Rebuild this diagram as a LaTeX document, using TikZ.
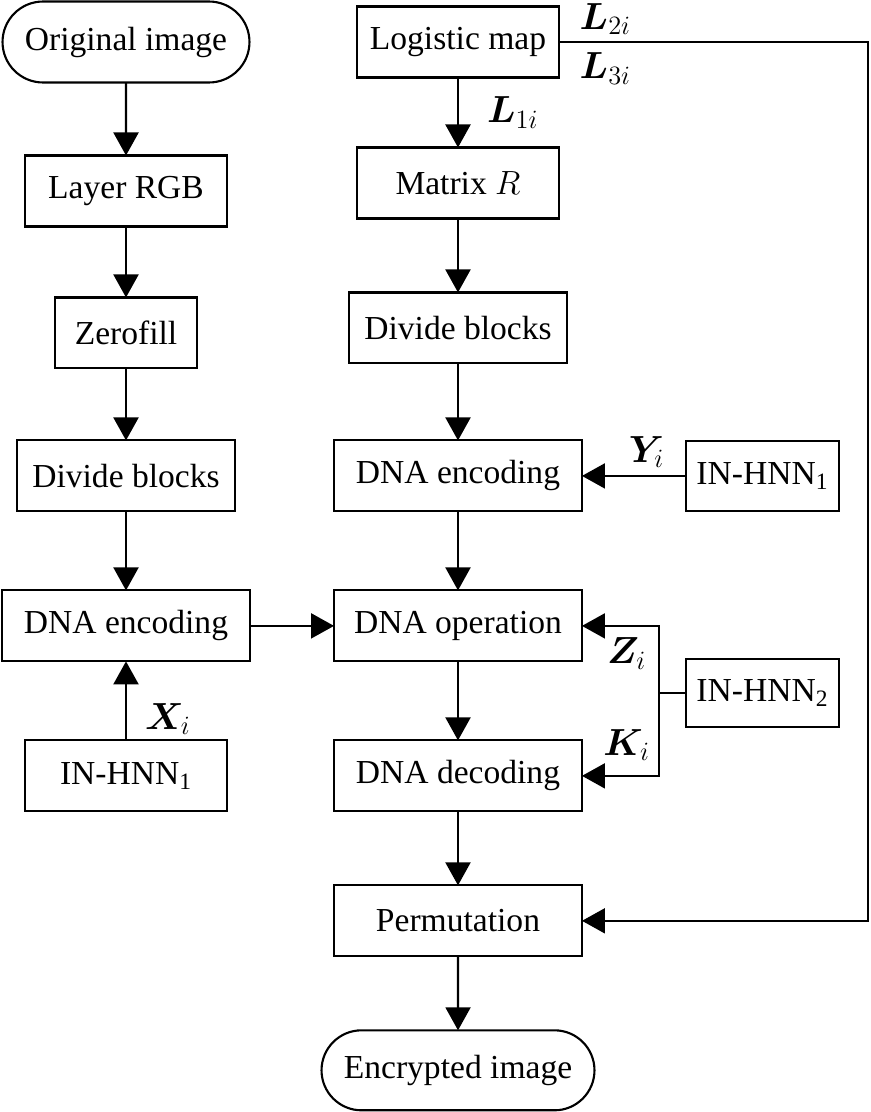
\RequirePackage{fix-cm}
\documentclass[tikz,border=0pt]{standalone}
\usepackage{amssymb,amsmath}
\usepackage{bm}
\usepackage[no-math]{fontspec}
\setmainfont{Liberation Serif}
\usetikzlibrary{arrows.meta}
\usetikzlibrary{positioning}
\usetikzlibrary{shapes.misc}

\begin{document}
\begin{tikzpicture}[
        x = 0.02cm, y = -0.02cm, % pixel grid
        > = {Triangle[length=4.6mm, width=5mm]}, % arrow head style
        node distance = 1.42cm, % gap between boxes
        line width = 1.2pt, % line style
        font = \fontsize{19.1pt}{22pt}\selectfont
    ]

    \tikzstyle{block}=[
        draw = black,
        fill = white,
        inner sep = 0pt,
        outer sep = 0pt,
        minimum height = 1.42cm
    ]
    \tikzstyle{term}=[
        block,
        rounded rectangle,
        minimum height = 1.62cm
    ]
    \tikzstyle{lbl}=[inner sep = 0pt, font = \fontsize{21.5pt}{24pt}\selectfont]

    \useasboundingbox (0,0) rectangle (871,1112);

    % left column
    \node[term, minimum width=4.94cm] (orig) at (126,42) {Original image};
    \node[block, minimum width=4.04cm] (layer) [below=1.46cm of orig] {Layer RGB};
    \node[block, minimum width=2.84cm] (zero) [below=of layer] {Zerofill};
    \node[block, minimum width=4.36cm] (divl) [below=1.44cm of zero] {Divide blocks};
    \node[block, minimum width=4.96cm] (encl) [below=1.58cm of divl] {DNA encoding};
    \node[block, minimum width=4.04cm] (hnnl) [below=1.58cm of encl] {IN-HNN\textsubscript{1}};

    % right column
    \node[block, minimum width=4.04cm] (logmap) at (458,42) {Logistic map};
    \node[block, minimum width=4.04cm] (matr) [below=1.4cm of logmap] {Matrix $R$};
    \node[block, minimum width=4.36cm] (divr) [below=1.48cm of matr] {Divide blocks};
    \node[block, minimum width=4.96cm] (encr) [below=1.54cm of divr] {DNA encoding};
    \node[block, minimum width=4.96cm] (oper) [below=1.58cm of encr] {DNA operation};
    \node[block, minimum width=4.96cm] (decr) [below=1.58cm of oper] {DNA decoding};
    \node[block, minimum width=4.96cm] (perm) [below=1.48cm of decr] {Permutation};
    \node[term, minimum width=5.46cm, minimum height=1.6cm] (encimg) [below=1.48cm of perm] {Encrypted image};

    % key generators
    \node[block, minimum width=3.06cm, minimum height=1.4cm] (hnn1) [right=2.08cm of encr] {IN-HNN\textsubscript{1}};
    \node[block, minimum width=3.06cm, minimum height=1.36cm] (hnn2) [below=2.96cm of hnn1] {IN-HNN\textsubscript{2}};

    \coordinate[left=0.54cm of hnn2] (split);
    \coordinate (turn) at (868,42);

    \draw[->] (orig) -- (layer);
    \draw[->] (layer) -- (zero);
    \draw[->] (zero) -- (divl);
    \draw[->] (divl) -- (encl);
    \draw[->] (hnnl) -- node[lbl, pos=0.27, right=0.36cm] {$\bm{X}_i$} (encl);
    \draw[->] (encl) -- (encl -| oper.west);

    \draw[->] (logmap) -- node[lbl, midway, right=0.56cm] {$\bm{L}_{1i}$} (matr);
    \draw[->] (matr) -- (divr);
    \draw[->] (divr) -- (encr);
    \draw[->] (encr) -- (oper);
    \draw[->] (oper) -- (decr);
    \draw[->] (decr) -- (perm);
    \draw[->] (perm) -- (encimg);

    \draw[->] (hnn1) -- node[lbl, pos=0.38, above=0.14cm] {$\bm{Y}_i$} (encr);
    \draw (hnn2) -- (split);
    \draw[->] (split) |- node[lbl, pos=0.71, below=0.22cm] {$\bm{Z}_i$} (oper);
    \draw[->] (split) |- node[lbl, pos=0.71, above=0.28cm] {$\bm{K}_i$} (decr);

    \draw[->] (logmap) -- node[lbl, pos=0.15, above=0.12cm] {$\bm{L}_{2i}$}
        node[lbl, pos=0.15, below=0.2cm] {$\bm{L}_{3i}$} (turn) |- (perm);

\end{tikzpicture}
\end{document}
